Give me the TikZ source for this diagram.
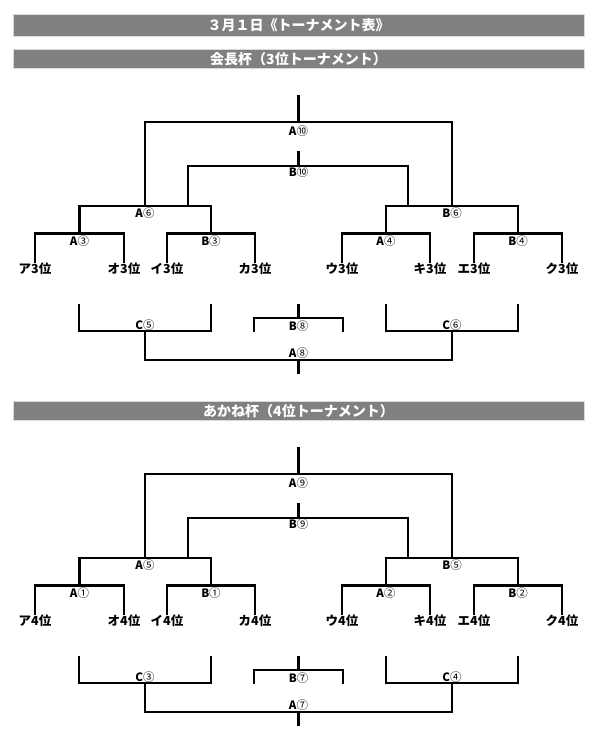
\documentclass[tikz,border=0pt]{standalone}
\usepackage{fontspec}
\setmainfont{Noto Sans CJK JP}
\definecolor{barfill}{HTML}{808080}
\definecolor{barline}{HTML}{D9D9D9}
\tikzset{
  bk/.style={line width=2.2pt, line join=miter},
  titlebar/.style={fill=barfill, draw=barline, line width=1pt, inner sep=0pt, text=white,
    minimum width=571pt, font=\bfseries\fontsize{14}{14}\selectfont},
  mlabel/.style={inner sep=0pt, font=\fontsize{11.5}{11.5}\selectfont},
  leaf/.style={inner sep=0pt, anchor=north, font=\bfseries\fontsize{12.5}{12.5}\selectfont},
}
\begin{document}
\begin{tikzpicture}[x=1pt,y=-1pt]
\useasboundingbox (0,0) rectangle (600,755);
\node[titlebar, minimum height=22pt] (title) at (298.5,25) {３月１日《トーナメント表》};
\node[titlebar, minimum height=19.5pt] (cup1) at (298.5,58.75) {会長杯（3位トーナメント）};
\node[titlebar, minimum height=19.5pt] (cup2) at (298.5,410.75) {あかね杯（4位トーナメント）};

\foreach \off/\pre/\rk/\fa/\fb/\sa/\sb/\qa/\qb/\qc/\qd/\ca/\cb/\cm/\cf in
  {0/p/3/⑩/⑩/⑥/⑥/③/③/④/④/⑤/⑥/⑧/⑧, 352/q/4/⑨/⑨/⑤/⑤/①/①/②/②/③/④/⑦/⑦} {
\begin{scope}[yshift=-\off pt, name prefix=\pre-]
  % leaves
  \foreach \x/\n/\kk in {35/1/ア,124/2/オ,167/3/イ,255/4/カ,342/5/ウ,430/6/キ,474/7/エ,562/8/ク}
    \node[leaf] (l\n) at (\x,263) {\kk\rk 位};
  % first round
  \coordinate (qA) at (79.5,233.5);
  \coordinate (qB) at (211,233.5);
  \coordinate (qC) at (386,233.5);
  \coordinate (qD) at (518,233.5);
  \draw[bk] (l1.north) |- (qA) -| (l2.north);
  \draw[bk] (l3.north) |- (qB) -| (l4.north);
  \draw[bk] (l5.north) |- (qC) -| (l6.north);
  \draw[bk] (l7.north) |- (qD) -| (l8.north);
  % semi finals
  \coordinate (sA) at (145,206);
  \coordinate (sB) at (452,206);
  \draw[bk] (qA) |- (sA) -| (qB);
  \draw[bk] (qC) |- (sB) -| (qD);
  % final
  \coordinate (fA) at (298.5,122);
  \coordinate (ftop) at (298.5,95);
  \draw[bk] (sA) |- (fA) -| (sB);
  \draw[bk] (fA) -- (ftop);
  % B final
  \coordinate (gL) at (188,206);
  \coordinate (gR) at (408,206);
  \coordinate (gB) at (298.5,166);
  \coordinate (gtop) at (298.5,151);
  \draw[bk] (gL) |- (gB) -| (gR);
  \draw[bk] (gB) -- (gtop);
  % labels
  \node[mlabel] (nfA) at (298.5,131) {\textbf{A}\fa};
  \node[mlabel] (nfB) at (298.5,172.5) {\textbf{B}\fb};
  \node[mlabel] (nsA) at (145,213) {\textbf{A}\sa};
  \node[mlabel] (nsB) at (452,213) {\textbf{B}\sb};
  \node[mlabel] (nqA) at (79.5,241.5) {\textbf{A}\qa};
  \node[mlabel] (nqB) at (211,241.5) {\textbf{B}\qb};
  \node[mlabel] (nqC) at (386,241.5) {\textbf{A}\qc};
  \node[mlabel] (nqD) at (518,241.5) {\textbf{B}\qd};
  % consolation brackets
  \coordinate (cAl) at (79,304);
  \coordinate (cAr) at (211,304);
  \coordinate (cA) at (145,331);
  \draw[bk] (cAl) |- (cA) -| (cAr);
  \coordinate (cBl) at (386,304);
  \coordinate (cBr) at (518,304);
  \coordinate (cB) at (452,331);
  \draw[bk] (cBl) |- (cB) -| (cBr);
  \coordinate (mL) at (254,331.5);
  \coordinate (mR) at (343,331.5);
  \coordinate (mB) at (298.5,318);
  \coordinate (mtop) at (298.5,304);
  \draw[bk] (mL) |- (mB) -| (mR);
  \draw[bk] (mB) -- (mtop);
  \coordinate (fin) at (298.5,360);
  \coordinate (finb) at (298.5,374);
  \draw[bk] (cA) |- (fin) -| (cB);
  \draw[bk] (fin) -- (finb);
  \node[mlabel] (ncA) at (145,325) {\textbf{C}\ca};
  \node[mlabel] (ncB) at (452,325) {\textbf{C}\cb};
  \node[mlabel] (nm) at (298.5,326) {\textbf{B}\cm};
  \node[mlabel] (nfin) at (298.5,353) {\textbf{A}\cf};
\end{scope}
}
\end{tikzpicture}
\end{document}
